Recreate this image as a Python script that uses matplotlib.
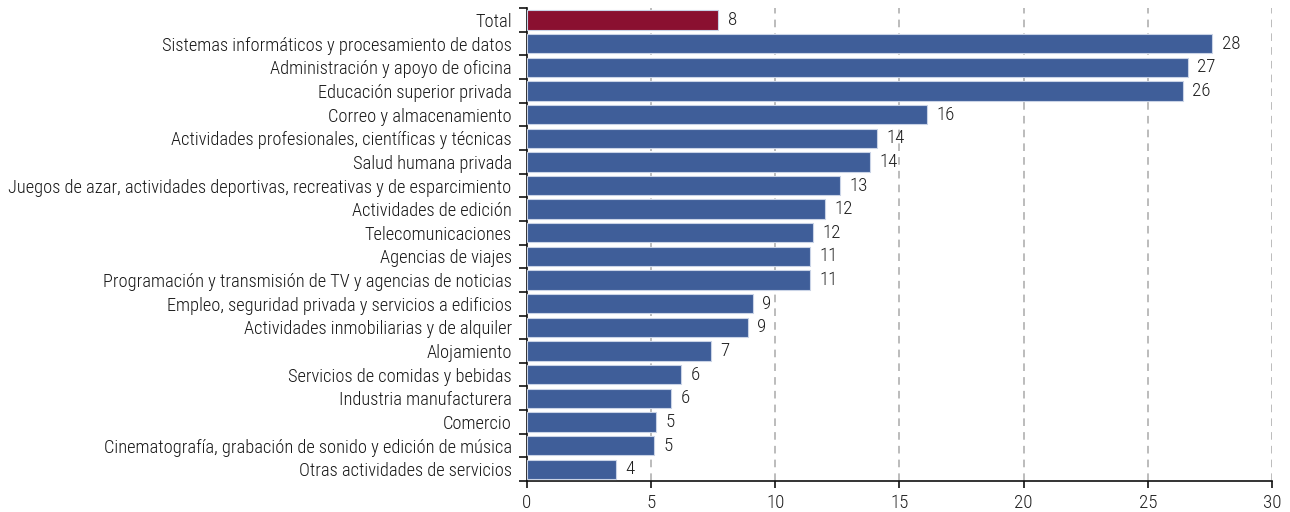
import numpy as np
import matplotlib.pyplot as plt
from matplotlib import font_manager

sectors = [
    'Total',
    'Sistemas informáticos y procesamiento de datos',
    'Administración y apoyo de oficina',
    'Educación superior privada',
    'Correo y almacenamiento',
    'Actividades profesionales, científicas y técnicas',
    'Salud humana privada',
    'Juegos de azar, actividades deportivas, recreativas y de esparcimiento',
    'Actividades de edición',
    'Telecomunicaciones',
    'Agencias de viajes',
    'Programación y transmisión de TV y agencias de noticias',
    'Empleo, seguridad privada y servicios a edificios',
    'Actividades inmobiliarias y de alquiler',
    'Alojamiento',
    'Servicios de comidas y bebidas',
    'Industria manufacturera',
    'Comercio',
    'Cinematografía, grabación de sonido y edición de música',
    'Otras actividades de servicios',
]
values = [7.7, 27.6, 26.6, 26.4, 16.1, 14.1, 13.8, 12.6, 12.0, 11.5,
          11.4, 11.4, 9.1, 8.9, 7.4, 6.2, 5.8, 5.2, 5.1, 3.6]
xticks = [0, 5, 10, 15, 20, 25, 30]

installed = {f.name for f in font_manager.fontManager.ttflist}
fam = 'Roboto'
fs = 11.8
for cand in ['Roboto Condensed', 'Liberation Sans Narrow', 'Open Sans Condensed']:
    if cand in installed:
        fam = cand
        fs = 13.2
        break
plt.rcParams['font.family'] = [fam, 'DejaVu Sans']
plt.rcParams['font.weight'] = 'light'

blue = '#3F5E99'
red = '#8A1030'
colors = [red] + [blue] * (len(values) - 1)

fig = plt.figure(figsize=(12.9, 5.12), dpi=100)
ax = fig.add_axes([0.4085, 0.0605, 0.5775, 0.9235])

y = np.arange(len(values))
ax.barh(y, values, height=0.82, color=colors, edgecolor='#C9D3E6', linewidth=0.8, zorder=3)
for yi, v in zip(y, values):
    ax.text(v + 0.38, yi, f'{v:.0f}', va='center', ha='left', fontsize=fs + 0.5, color='#1e1e1e', zorder=4)

ax.set_xlim(0, 30)
ax.set_ylim(len(values) - 0.5, -0.5)
ax.set_xticks(xticks)
ax.set_xticklabels([str(t) for t in xticks], fontsize=fs + 0.5, color='#1e1e1e')
ax.set_yticks(y)
ax.set_yticklabels(sectors, fontsize=fs, color='#161616')
ax.tick_params(axis='y', length=0, pad=11)
ax.set_yticks(np.arange(-0.5, len(values)), minor=True)
ax.tick_params(axis='y', which='minor', length=6, width=1.2, color='#111111')
ax.tick_params(axis='x', length=5, width=1.2, color='#111111', pad=4)

for t in xticks[1:]:
    ax.axvline(t, color='#AAAAAA', linestyle=(0, (5, 4)), linewidth=1.1, zorder=1)

for s in ['top', 'right']:
    ax.spines[s].set_visible(False)
ax.spines['left'].set_color('#111111')
ax.spines['bottom'].set_color('#111111')
ax.spines['left'].set_linewidth(1.2)
ax.spines['bottom'].set_linewidth(1.2)

fig.savefig('out.png', dpi=100)
